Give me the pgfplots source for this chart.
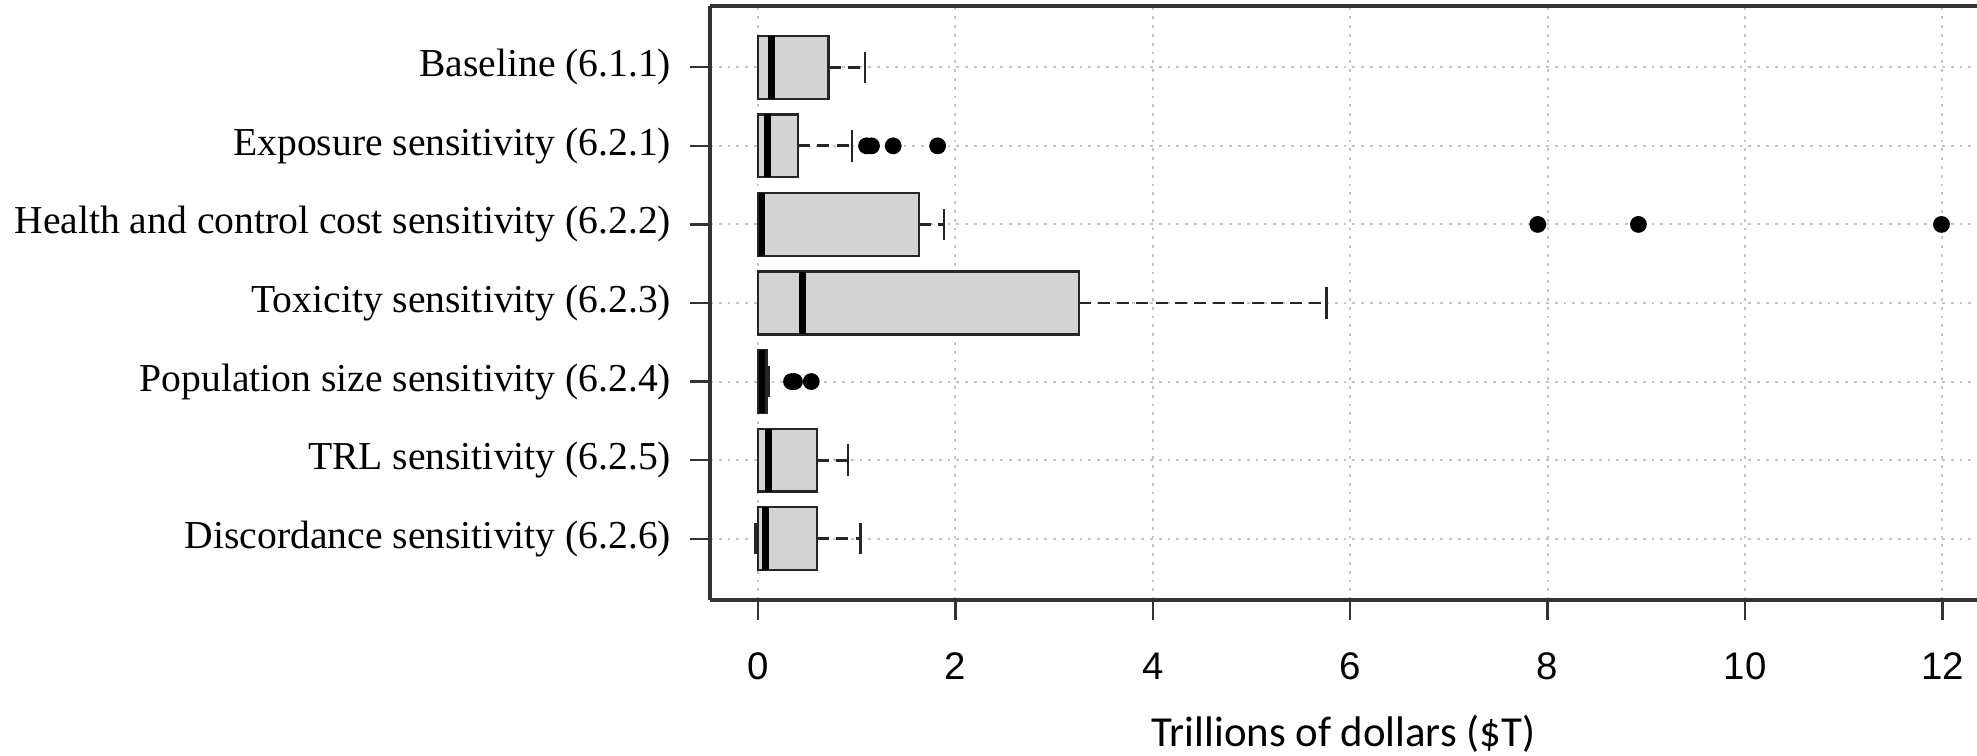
\documentclass[border=0pt]{standalone}
\usepackage{fontspec}
\usepackage{pgfplots}
\pgfplotsset{compat=1.18}
\usepgfplotslibrary{statistics}
\setmainfont{Liberation Serif}
\newfontfamily\arialfont{Liberation Sans}
\newfontfamily\calibrifont{Carlito}
\definecolor{boxgray}{HTML}{D3D3D3}
\definecolor{gridgray}{HTML}{C4C4C4}

\pgfplotsset{
  mybox/.style={
    boxplot/draw direction=x,
    boxplot/box extend=0.8,
    boxplot/every box/.style={draw=black!85, fill=boxgray, line width=0.6pt},
    boxplot/every median/.style={draw=black, line width=1.7pt},
    boxplot/draw/lower whisker/.code={%
      \draw[black!85, line width=0.7pt, dash pattern=on 3pt off 1.8pt]
        (boxplot box cs:\pgfplotsboxplotvalue{lower quartile},0.5) --
        (boxplot box cs:\pgfplotsboxplotvalue{lower whisker},0.5);
      \draw[black!85, line width=0.6pt]
        (boxplot box cs:\pgfplotsboxplotvalue{lower whisker},0.25) --
        (boxplot box cs:\pgfplotsboxplotvalue{lower whisker},0.75);
    },
    boxplot/draw/upper whisker/.code={%
      \draw[black!85, line width=0.7pt, dash pattern=on 3pt off 1.8pt]
        (boxplot box cs:\pgfplotsboxplotvalue{upper quartile},0.5) --
        (boxplot box cs:\pgfplotsboxplotvalue{upper whisker},0.5);
      \draw[black!85, line width=0.6pt]
        (boxplot box cs:\pgfplotsboxplotvalue{upper whisker},0.25) --
        (boxplot box cs:\pgfplotsboxplotvalue{upper whisker},0.75);
    },
  }
}

\begin{document}
\begin{tikzpicture}
\begin{axis}[
  scale only axis,
  width=316.75pt, height=148.5pt,
  xmin=-0.486, xmax=12.35,
  ymin=0.22, ymax=7.78,
  axis x line*=box, axis y line*=left,
  axis line style={black!80, line width=0.8pt},
  xtick={0,2,4,6,8,10,12},
  ytick={1,2,3,4,5,6,7},
  yticklabels={Discordance sensitivity (6.2.6)\hspace{2.3pt},
               TRL sensitivity (6.2.5)\hspace{2.3pt},
               Population size sensitivity (6.2.4),
               Toxicity sensitivity (6.2.3),
               Health and control cost sensitivity (6.2.2),
               Exposure sensitivity (6.2.1),
               Baseline (6.1.1)},
  tick align=outside,
  tick pos=left,
  major tick length=5pt,
  tick style={black!80, line width=0.6pt},
  grid=major,
  major grid style={gridgray, line width=0.5pt, dash pattern=on 0.7pt off 1.5pt},
  /pgf/number format/assume math mode=true,
  xticklabel style={font=\arialfont\fontsize{9.6}{11}\selectfont, yshift=-4.7pt},
  yticklabel style={font=\fontsize{9.9}{12}\selectfont, xshift=-1.2pt},
  xlabel={Trillions of dollars (\$T)},
  xlabel style={font=\calibrifont\fontsize{10.7}{12}\selectfont,
                at={(axis description cs:0.5,0)}, anchor=base, yshift=-36.6pt},
]
\coordinate (sw) at (rel axis cs:0,0);
\coordinate (ne) at (rel axis cs:1,1);

% Baseline (6.1.1)
\addplot[mybox, boxplot prepared={draw position=7,
  lower whisker=0, lower quartile=0, median=0.136,
  upper quartile=0.715, upper whisker=1.086}] coordinates {};
% Exposure sensitivity (6.2.1)
\addplot[mybox, boxplot prepared={draw position=6,
  lower whisker=0, lower quartile=0, median=0.10,
  upper quartile=0.407, upper whisker=0.95}] coordinates {};
% Health and control cost sensitivity (6.2.2)
\addplot[mybox, boxplot prepared={draw position=5,
  lower whisker=0, lower quartile=0, median=0.04,
  upper quartile=1.63, upper whisker=1.887}] coordinates {};
% Toxicity sensitivity (6.2.3)
\addplot[mybox, boxplot prepared={draw position=4,
  lower whisker=0, lower quartile=0, median=0.45,
  upper quartile=3.25, upper whisker=5.76}] coordinates {};
% Population size sensitivity (6.2.4)
\addplot[mybox, boxplot prepared={draw position=3,
  lower whisker=0, lower quartile=0, median=0.04,
  upper quartile=0.085, upper whisker=0.11}] coordinates {};
% TRL sensitivity (6.2.5)
\addplot[mybox, boxplot prepared={draw position=2,
  lower whisker=0, lower quartile=0, median=0.105,
  upper quartile=0.60, upper whisker=0.915}] coordinates {};
% Discordance sensitivity (6.2.6)
\addplot[mybox, boxplot prepared={draw position=1,
  lower whisker=-0.025, lower quartile=0, median=0.075,
  upper quartile=0.60, upper whisker=1.04}] coordinates {};

% Outliers
\addplot[only marks, mark=*, mark size=1.9pt, black] coordinates {
  (1.10,6) (1.15,6) (1.37,6) (1.82,6)
  (7.90,5) (8.92,5) (11.99,5)
  (0.34,3) (0.37,3) (0.54,3)
};
\end{axis}
\pgfresetboundingbox
\path ([xshift=-177.5pt,yshift=-39pt]sw) rectangle ([yshift=1.5pt]ne);
\end{tikzpicture}
\end{document}
